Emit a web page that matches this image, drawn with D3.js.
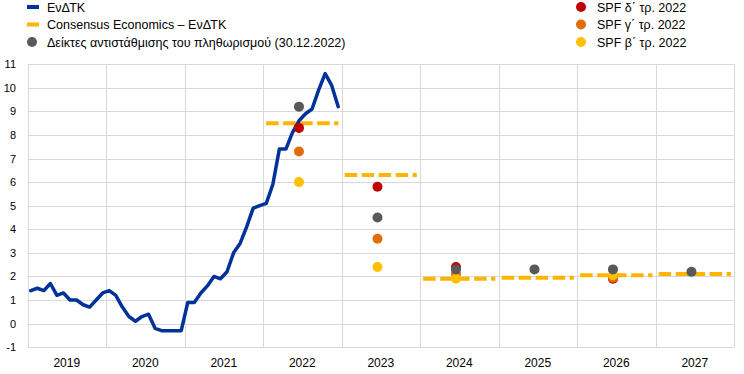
<!DOCTYPE html>
<html><head><meta charset="utf-8">
<script src="https://cdn.jsdelivr.net/npm/d3@7"></script>
<style>body{margin:0;background:#fff}svg{display:block}text{font-family:"Liberation Sans",Arial,sans-serif;fill:#000}</style>
</head><body><svg id="c" width="744" height="374"></svg>
<script>
// ---- data ----
const years = [2019, 2020, 2021, 2022, 2023, 2024, 2025, 2026, 2027];
const yTicks = [-1, 0, 1, 2, 3, 4, 5, 6, 7, 8, 9, 10, 11];
// HICP monthly, Jan 2019 - Dec 2022
const hicp = [
  1.4, 1.5, 1.4, 1.7, 1.2, 1.3, 1.0, 1.0, 0.8, 0.7, 1.0, 1.3,
  1.4, 1.2, 0.7, 0.3, 0.1, 0.3, 0.4, -0.2, -0.3, -0.3, -0.3, -0.3,
  0.9, 0.9, 1.3, 1.6, 2.0, 1.9, 2.2, 3.0, 3.4, 4.1, 4.9, 5.0,
  5.1, 5.9, 7.4, 7.4, 8.1, 8.6, 8.9, 9.1, 9.9, 10.6, 10.1, 9.2
];
const consensusYears = [2022, 2023, 2024, 2025, 2026, 2027];
const consensus = [8.5, 6.3, 1.9, 1.95, 2.05, 2.1];
const marketYears = [2022, 2023, 2024, 2025, 2026, 2027];
const market = [9.2, 4.5, 2.3, 2.3, 2.3, 2.2];
const spfYears = [2022, 2023, 2024, 2026];
const spfQ4 = [8.3, 5.8, 2.4, 1.9];
const spfQ3 = [7.3, 3.6, 2.1, 1.95];
const spfQ2 = [6.0, 2.4, 1.9, 2.05];
const leftLegend = ["ΕνΔΤΚ", "Consensus Economics – ΕνΔΤΚ", "Δείκτες αντιστάθμισης του πληθωρισμού (30.12.2022)"];
const rightLegend = ["SPF δ΄ τρ. 2022", "SPF γ΄ τρ. 2022", "SPF β΄ τρ. 2022"];

// ---- styles ----
const C = {blue: "#003299", dash: "#FFB400", grey: "#595959", red: "#C00000", orange: "#E36C0A", yellow: "#FFC000", grid: "#D9D9D9"};

const svg = d3.select("#c");
const x = d3.scaleLinear().domain([2019, 2028]).range([27.5, 734]);
const y = d3.scaleLinear().domain([-1, 11]).range([347.2, 64.2]);

// grid
const g = svg.append("g");
g.selectAll(".h").data(yTicks).join("line")
  .attr("x1", x(2019)).attr("x2", x(2028))
  .attr("y1", d => Math.round(y(d)) + 0.5).attr("y2", d => Math.round(y(d)) + 0.5)
  .attr("stroke", C.grid).attr("stroke-width", 1);
g.selectAll(".v").data(years.concat([2028])).join("line")
  .attr("x1", d => Math.round(x(d)) + 0.5).attr("x2", d => Math.round(x(d)) + 0.5)
  .attr("y1", y(11)).attr("y2", y(-1))
  .attr("stroke", C.grid).attr("stroke-width", 1);

// y axis labels
svg.append("g").selectAll("text").data(yTicks).join("text")
  .attr("x", 16).attr("y", d => y(d) + 4).attr("text-anchor", "end")
  .style("font-size", "11px").text(d => d);
// x axis labels
svg.append("g").selectAll("text").data(years).join("text")
  .attr("x", d => x(d + 0.5)).attr("y", 366.5).attr("text-anchor", "middle")
  .style("font-size", "12px").text(d => d);

// consensus dashed lines
svg.append("g").selectAll("line").data(consensusYears).join("line")
  .attr("x1", d => x(d + 0.04)).attr("x2", d => x(d + 0.96))
  .attr("y1", (d, i) => y(consensus[i])).attr("y2", (d, i) => y(consensus[i]))
  .attr("stroke", C.dash).attr("stroke-width", 4).attr("stroke-dasharray", "12.5,4.5");

// HICP line
const line = d3.line().x((d, i) => x(2019 + (i + 0.5) / 12)).y(d => y(d));
svg.append("path").datum(hicp).attr("d", line)
  .attr("fill", "none").attr("stroke", C.blue).attr("stroke-width", 3.5)
  .attr("stroke-linejoin", "round").attr("stroke-linecap", "round");

// dots
const dotX = yr => x(yr + 5.5 / 12);
function dots(yrs, vals, color) {
  svg.append("g").selectAll("circle").data(vals).join("circle")
    .attr("cx", (d, i) => dotX(yrs[i])).attr("cy", d => y(d)).attr("r", 5).attr("fill", color);
}
dots(spfYears, spfQ4, C.red);
dots(spfYears, spfQ3, C.orange);
dots(spfYears, spfQ2, C.yellow);
dots(marketYears, market, C.grey);

// legend
const lb = [11.5, 29, 46.5];
const L = svg.append("g");
L.append("rect").attr("x", 27).attr("y", lb[0] - 6.5).attr("width", 12).attr("height", 4).attr("fill", C.blue);
L.append("rect").attr("x", 27).attr("y", lb[1] - 6.5).attr("width", 12).attr("height", 4).attr("fill", C.dash);
L.append("circle").attr("cx", 32).attr("cy", lb[2] - 4.5).attr("r", 5).attr("fill", C.grey);
L.selectAll("text").data(leftLegend).join("text")
  .attr("x", 47).attr("y", (d, i) => lb[i]).style("font-size", "12.5px").text(d => d);
const R = svg.append("g");
const rc = [C.red, C.orange, C.yellow];
R.selectAll("circle").data(rightLegend).join("circle")
  .attr("cx", 581).attr("cy", (d, i) => lb[i] - 4.5).attr("r", 5).attr("fill", (d, i) => rc[i]);
R.selectAll("text").data(rightLegend).join("text")
  .attr("x", 597).attr("y", (d, i) => lb[i]).style("font-size", "12.5px").text(d => d);
</script></body></html>
